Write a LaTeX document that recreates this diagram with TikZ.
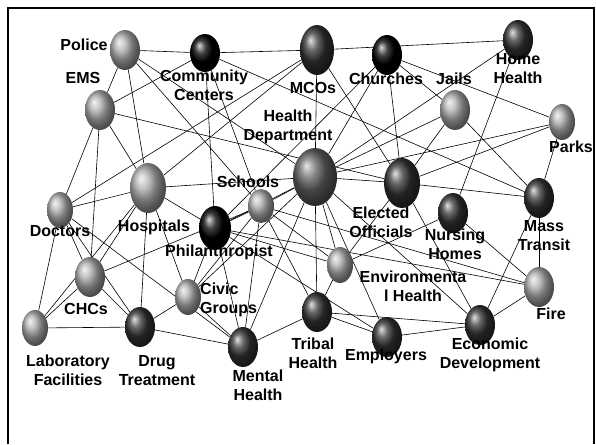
\documentclass[tikz,border=0pt]{standalone}
\usepackage{fontspec}
\setmainfont{Liberation Sans}
\usetikzlibrary{shapes.geometric,backgrounds,positioning}
\tikzset{
    netedge/.style   = {black, -, line width=0.6pt},
    ballsz/.style 2 args = {minimum width=#1pt, minimum height=#2pt},
    lightball/.style = {ellipse, inner sep=0pt, ball color=black!33},
    darkball/.style  = {ellipse, inner sep=0pt, ball color=black!80},
    blackball/.style = {ellipse, inner sep=0pt, ball color=black},
    hdball/.style    = {ellipse, inner sep=0pt, ball color=black!62},
    lab/.style       = {align=center, inner sep=0pt, font=\bfseries\fontsize{16}{19}\selectfont},
}

\begin{document}
\begin{tikzpicture}[x=1pt, y=-1pt]
        \useasboundingbox (0,0) rectangle (596,444);
        \draw[line width=2.5pt] (8,444) -- (8,8) -- (594,8) -- (594,444);

        % spheres
        \node[lightball, ballsz={30}{40}] (pol) at (125,50) {};
        \node[blackball, ballsz={30}{38}] (cc) at (205,53) {};
        \node[lightball, ballsz={30}{40}] (ems) at (100,110) {};
        \node[darkball, ballsz={34}{50}] (mco) at (317,50) {};
        \node[blackball, ballsz={30}{40}] (chu) at (387,55) {};
        \node[darkball, ballsz={30}{40}] (hh) at (518,40) {};
        \node[lightball, ballsz={30}{40}] (jai) at (455,110) {};
        \node[lightball, ballsz={26}{36}] (prk) at (562,122) {};
        \node[hdball, ballsz={44}{58}] (hd) at (315,177) {};
        \node[lightball, ballsz={26}{34}] (sch) at (261,206) {};
        \node[lightball, ballsz={26}{36}] (doc) at (60,210) {};
        \node[lightball, ballsz={36}{50}] (hos) at (148,188) {};
        \node[blackball, ballsz={32}{44}] (phi) at (215,228) {};
        \node[darkball, ballsz={36}{50}] (eo) at (402,183) {};
        \node[darkball, ballsz={30}{40}] (nh) at (453,213) {};
        \node[darkball, ballsz={30}{40}] (mt) at (539,198) {};
        \node[lightball, ballsz={30}{40}] (chc) at (90,277) {};
        \node[lightball, ballsz={26}{36}] (civ) at (188,297) {};
        \node[lightball, ballsz={26}{36}] (lab) at (35,328) {};
        \node[darkball, ballsz={30}{40}] (drg) at (140,327) {};
        \node[lightball, ballsz={26}{36}] (eh) at (340,265) {};
        \node[darkball, ballsz={30}{40}] (mh) at (243,347) {};
        \node[darkball, ballsz={30}{40}] (tri) at (317,312) {};
        \node[darkball, ballsz={30}{40}] (emp) at (387,337) {};
        \node[darkball, ballsz={30}{40}] (ed) at (480,325) {};
        \node[lightball, ballsz={30}{40}] (fir) at (539,287) {};

        % labels
        \node[lab] (pol-l) at (84,45) {Police};
        \node[lab] (cc-l) at (204,85) {Community\\Centers};
        \node[lab] (ems-l) at (83,78) {EMS};
        \node[lab] (mco-l) at (313,88) {MCOs};
        \node[lab] (chu-l) at (386,79) {Churches};
        \node[lab] (hh-l) at (518,69) {Home\\Health};
        \node[lab] (jai-l) at (454,79) {Jails};
        \node[lab] (prk-l) at (571,147) {Parks};
        \node[lab] (hd-l) at (288,127) {Health\\Department};
        \node[lab] (sch-l) at (248,182) {Schools};
        \node[lab] (doc-l) at (60,231) {Doctors};
        \node[lab] (hos-l) at (154,227) {Hospitals};
        \node[lab] (phi-l) at (219,252) {Philanthropist};
        \node[lab] (eo-l) at (381,222) {Elected\\Officials};
        \node[lab] (nh-l) at (455,244) {Nursing\\Homes};
        \node[lab] (mt-l) at (544,236) {Mass\\Transit};
        \node[lab] (eh-l) at (413,286) {Environmenta\\l Health};
        \node[lab] (chc-l) at (86,309) {CHCs};
        \node[lab, align=left, anchor=west] (civ-l) at (200,300) {Civic\\Groups};
        \node[lab] (lab-l) at (68,370) {Laboratory\\Facilities};
        \node[lab] (drg-l) at (157,371) {Drug\\Treatment};
        \node[lab] (mh-l) at (258,385) {Mental\\Health};
        \node[lab] (tri-l) at (313,353) {Tribal\\Health};
        \node[lab] (emp-l) at (386,356) {Employers};
        \node[lab] (ed-l) at (490,355) {Economic\\Development};
        \node[lab] (fir-l) at (551,314) {Fire};

        % links
        \begin{pgfonlayer}{background}
        \path (pol) edge[netedge] (cc);
        \path (pol) edge[netedge] (ems);
        \path (pol) edge[netedge] (hos);
        \path (pol) edge[netedge] (sch);
        \path (pol) edge[netedge] (hd);
        \path (ems) edge[netedge] (cc);
        \path (ems) edge[netedge] (eo);
        \path (ems) edge[netedge] (doc);
        \path (ems) edge[netedge] (chc);
        \path (ems) edge[netedge] (hos);
        \path (cc) edge[netedge] (mco);
        \path (cc) edge[netedge] (phi);
        \path (cc) edge[netedge] (sch);
        \path (cc) edge[netedge] (mt);
        \path (mco) edge[netedge] (hh);
        \path (mco) edge[netedge] (hos);
        \path (mco) edge[netedge] (doc);
        \path (mco) edge[netedge] (hd);
        \path (mco) edge[netedge] (eo);
        \path (chu) edge[netedge] (prk);
        \path (chu) edge[netedge] (jai);
        \path (chu) edge[netedge] (eo);
        \path (chu) edge[netedge] (hd);
        \path (chu) edge[netedge] (phi);
        \path (hh) edge[netedge] (hd);
        \path (hh) edge[netedge] (nh);
        \path (jai) edge[netedge] (hd);
        \path (jai) edge[netedge] (eo);
        \path (jai) edge[netedge] (mt);
        \path (prk) edge[netedge] (hd);
        \path (prk) edge[netedge] (eo);
        \path (prk) edge[netedge] (mt);
        \path (hd) edge[netedge] (eo);
        \path (hd) edge[netedge] (hos);
        \path (hd) edge[netedge] (sch);
        \path (hd) edge[netedge] (phi);
        \path (hd) edge[netedge] (civ);
        \path (hd) edge[netedge] (mh);
        \path (hd) edge[netedge] (tri);
        \path (hd) edge[netedge] (eh);
        \path (hd) edge[netedge] (emp);
        \path (hd) edge[netedge] (ed);
        \path (eo) edge[netedge] (mt);
        \path (eo) edge[netedge] (ed);
        \path (eo) edge[netedge] (eh);
        \path (mt) edge[netedge] (fir);
        \path (mt) edge[netedge] (ed);
        \path (nh) edge[netedge] (fir);
        \path (nh) edge[netedge] (eh);
        \path (fir) edge[netedge] (ed);
        \path (fir) edge[netedge] (sch);
        \path (fir) edge[netedge] (phi);
        \path (doc) edge[netedge] (hos);
        \path (doc) edge[netedge] (lab);
        \path (doc) edge[netedge] (chc);
        \path (doc) edge[netedge] (mh);
        \path (doc) edge[netedge] (drg);
        \path (hos) edge[netedge] (chc);
        \path (hos) edge[netedge] (lab);
        \path (hos) edge[netedge] (drg);
        \path (hos) edge[netedge] (civ);
        \path (hos) edge[netedge] (phi);
        \path (chc) edge[netedge] (lab);
        \path (chc) edge[netedge] (drg);
        \path (chc) edge[netedge] (sch);
        \path (lab) edge[netedge] (drg);
        \path (phi) edge[netedge] (sch);
        \path (phi) edge[netedge] (eh);
        \path (phi) edge[netedge] (mh);
        \path (phi) edge[netedge] (civ);
        \path (phi) edge[netedge] (emp);
        \path (sch) edge[netedge] (eh);
        \path (sch) edge[netedge] (tri);
        \path (sch) edge[netedge] (civ);
        \path (sch) edge[netedge] (mh);
        \path (civ) edge[netedge] (drg);
        \path (civ) edge[netedge] (mh);
        \path (drg) edge[netedge] (mh);
        \path (mh) edge[netedge] (tri);
        \path (eh) edge[netedge] (tri);
        \path (tri) edge[netedge] (ed);
        \path (tri) edge[netedge] (emp);
        \path (emp) edge[netedge] (ed);
        \end{pgfonlayer}
    \end{tikzpicture}
\end{document}
